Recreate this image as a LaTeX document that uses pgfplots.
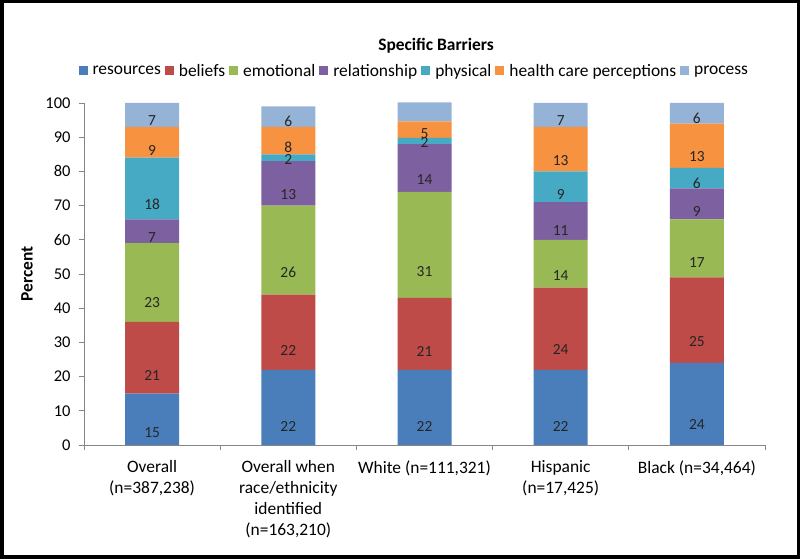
\documentclass[border=0pt]{standalone}
\usepackage{fontspec}
\setmainfont{Carlito}
\usepackage{pgfplots}
\usepackage{pgfplotstable}
\pgfplotsset{compat=1.18}

\definecolor{cres}{HTML}{4A7EBB}
\definecolor{cbel}{HTML}{BE4B48}
\definecolor{cemo}{HTML}{98B954}
\definecolor{crel}{HTML}{7D60A0}
\definecolor{cphy}{HTML}{46AAC5}
\definecolor{chcp}{HTML}{F69240}
\definecolor{cpro}{HTML}{95B3D7}
\definecolor{axgray}{HTML}{868686}

% percent of barriers per group (stacked)
\pgfplotstableread{
x res bel emo rel phy hcp pro
0 15 21 23 7 18 9 7
1 22 22 26 13 2 8 6
2 22 21 31 14 1.8 4.8 5.6
3 22 24 14 11 9 13 7
4 24 25 17 9 6 13 6
}\data

\newcommand{\txt}{\fontsize{17.5}{21}\selectfont}
\newcommand{\num}{\fontsize{15.5}{18}\selectfont}

\begin{document}
\begin{tikzpicture}
\useasboundingbox (0bp,0bp) rectangle (800bp,559bp);
\draw[line width=3.5bp] (1.75bp,1.75bp) rectangle (798.25bp,557.25bp);
\begin{axis}[
  at={(84bp,114bp)}, anchor=south west,
  scale only axis, width=681bp, height=342bp,
  ybar stacked, bar width=54bp,
  xmin=-0.5, xmax=4.5, ymin=0, ymax=100,
  /pgf/number format/assume math mode=true,
  ytick={0,10,...,100},
  xtick={0,...,4},
  xticklabels={{Overall\\(n=387,238)},{Overall when\\race/ethnicity\\identified\\(n=163,210)},{White (n=111,321)},{Hispanic\\(n=17,425)},{Black (n=34,464)}},
  xticklabel style={align=center, font=\txt, yshift=-7bp},
  yticklabel style={font=\fontsize{16.5}{18}\selectfont, xshift=-5bp},
  minor xtick={-0.5,0.5,...,4.5},
  major x tick style={draw=none},
  tick align=outside, major tick length=5bp, minor tick length=5bp,
  tick style={axgray, line width=0.8bp},
  axis lines*=left,
  axis line style={axgray, line width=0.8bp},
  ylabel={\textbf{Percent}},
  ylabel style={font=\txt, at={(axis description cs:-0.0837,0.5)}, anchor=center},
  title={\textbf{Specific Barriers}},
  title style={font=\txt, at={(axis description cs:0.517,1.15)}, anchor=center},
  legend style={draw=none, fill=none, legend columns=-1, font=\txt,
    at={(axis description cs:0.485,1.0936)}, anchor=center,
    /tikz/every odd column/.append style={column sep=3bp},
    /tikz/every even column/.append style={column sep=2bp}},
  legend image code/.code={\fill[#1] (0bp,-4.5bp) rectangle (9bp,4.5bp);},
  visualization depends on=rawy \as \val,
  nodes near coords={\pgfmathprintnumber[fixed,precision=0,assume math mode=true]{\val}},
  nodes near coords style={font=\num, text=black!85, anchor=center, yshift=-\val*0.855bp},
]
\addplot[fill=cres, draw=none] table[x=x, y=res]{\data};
\addplot[fill=cbel, draw=none] table[x=x, y=bel]{\data};
\addplot[fill=cemo, draw=none] table[x=x, y=emo]{\data};
\addplot[fill=crel, draw=none] table[x=x, y=rel]{\data};
\addplot[fill=cphy, draw=none] table[x=x, y=phy]{\data};
\addplot[fill=chcp, draw=none] table[x=x, y=hcp]{\data};
\addplot[fill=cpro, draw=none] table[x=x, y=pro]{\data};
\legend{resources,beliefs,emotional,relationship,physical,health care perceptions,process}
\end{axis}
\end{tikzpicture}
\end{document}
